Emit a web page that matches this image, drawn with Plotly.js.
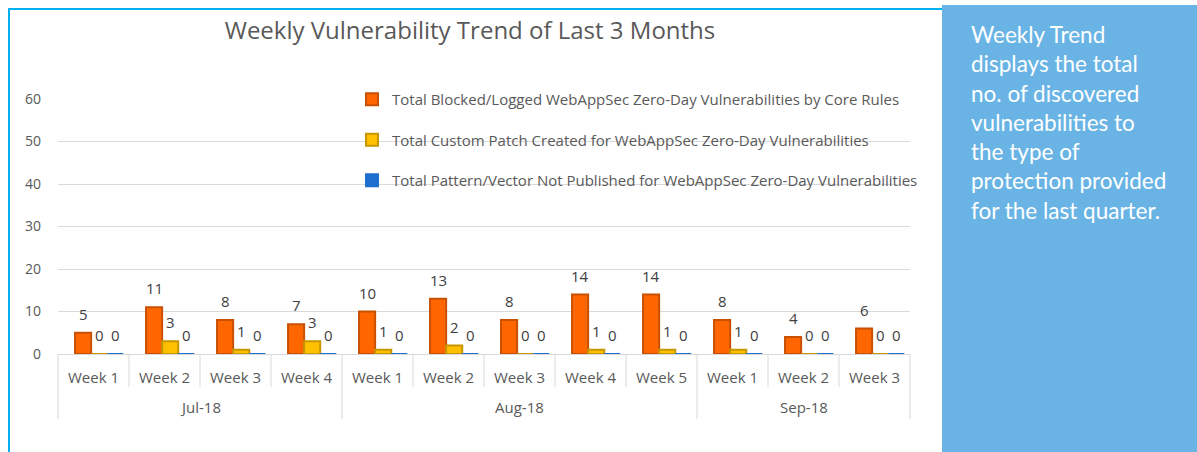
<!DOCTYPE html>
<html>
<head>
<meta charset="utf-8">
<script src="https://cdn.plot.ly/plotly-3.0.1.min.js"></script>
<style>
html,body{margin:0;padding:0;background:#fff;}
#chart{width:1197px;height:452px;}
</style>
</head>
<body>
<div id="chart"></div>
<script>
// ---- data ----
const months = ["Jul-18","Jul-18","Jul-18","Jul-18","Aug-18","Aug-18","Aug-18","Aug-18","Aug-18","Sep-18","Sep-18","Sep-18"];
const weeks  = ["Week 1","Week 2","Week 3","Week 4","Week 1","Week 2","Week 3","Week 4","Week 5","Week 1","Week 2","Week 3"];
const seriesNames = [
  "Total Blocked/Logged WebAppSec Zero-Day Vulnerabilities by Core Rules",
  "Total Custom Patch Created for WebAppSec Zero-Day Vulnerabilities",
  "Total Pattern/Vector Not Published for WebAppSec Zero-Day Vulnerabilities"
];
const blocked = [5, 11, 8, 7, 10, 13, 8, 14, 14, 8, 4, 6];
const patched = [0, 3, 1, 3, 1, 2, 0, 1, 1, 1, 0, 0];
const notPublished = [0, 0, 0, 0, 0, 0, 0, 0, 0, 0, 0, 0];
const yTicks = [0, 10, 20, 30, 40, 50, 60];
const titleText = "Weekly Vulnerability Trend of Last 3 Months";
const panelLines = ["Weekly Trend","displays the total","no. of discovered","vulnerabilities to","the type of","protection provided","for the last quarter."];

// ---- layout helpers ----
const W = 1197, H = 452;
const M = {l: 58, r: 287, t: 99, b: 98};
const PW = W - M.l - M.r, PH = H - M.t - M.b;
const px = v => (v - M.l) / PW;
const py = v => (H - M.b - v) / PH;

const FONT = "'Open Sans', sans-serif";
const PANEL_FONT = "Lato, sans-serif";
const GRID = "#D9D9D9";
const colors = ["#FF6600", "#FFC000", "#1E6FCE"];
const edges = ["#C85000", "#C79600", "#1E6FCE"];
const vals = [blocked, patched, notPublished];
const BARGAP = 0.32;
const SHIFT = 0.08;            // perspective shift of the bar group to the right
const barW = (1 - BARGAP) / vals.length;

const keys = months.map((m, i) => m + " " + weeks[i]);
const idx = keys.map((k, i) => i);

const traces = vals.map((v, i) => ({
  type: "bar",
  name: seriesNames[i],
  x: keys,
  y: v,
  width: barW,
  offset: (i - vals.length / 2) * barW + SHIFT,
  legendgroup: "g" + i,
  marker: {color: colors[i], line: {color: edges[i], width: 2}},
  hoverinfo: "y+name"
}));

const annotations = [];
// data labels
vals.forEach((v, s) => {
  v.forEach((val, i) => {
    annotations.push({xref: "x", yref: "y", x: i + (s - (vals.length - 1) / 2) * barW + SHIFT, y: val, yanchor: "bottom",
      yshift: 7, showarrow: false, text: String(val),
      font: {family: FONT, size: 15, color: "#404040"}});
  });
});
// week labels
weeks.forEach((w, i) => {
  annotations.push({xref: "x", yref: "paper", x: idx[i], y: py(377), yanchor: "middle",
    showarrow: false, text: w, font: {family: FONT, size: 15, color: "#595959"}});
});
// month labels + dividers
const shapes = [];
const monthStarts = [];
months.forEach((m, i) => { if (i === 0 || m !== months[i-1]) monthStarts.push(i); });
monthStarts.forEach((st, k) => {
  const en = (k + 1 < monthStarts.length ? monthStarts[k+1] : months.length) - 1;
  annotations.push({xref: "x", yref: "paper", x: (st + en) / 2, y: py(407), yanchor: "middle",
    showarrow: false, text: months[st], font: {family: FONT, size: 15, color: "#595959"}});
});
for (let i = 0; i <= months.length; i++) {
  const isMonthEdge = i === 0 || i === months.length || months[i] !== months[i-1];
  shapes.push({type: "line", xref: "paper", yref: "paper",
    x0: i / months.length, x1: i / months.length, y0: 0, y1: isMonthEdge ? py(419) : py(387),
    line: {color: GRID, width: 1}});
}
// panel text
annotations.push({
  xref: "paper", yref: "paper", x: px(969), y: py(19), xanchor: "left", yanchor: "top",
  align: "left", showarrow: false, text: panelLines.join("<br>"),
  font: {family: PANEL_FONT, size: 22.5, color: "#ffffff"}
});

// cyan border
shapes.push({type: "line", xref: "paper", yref: "paper", x0: px(9), x1: px(9), y0: py(8), y1: py(460), line: {color: "#00B0F0", width: 2}});
shapes.push({type: "line", xref: "paper", yref: "paper", x0: px(8), x1: px(942), y0: py(9), y1: py(9), line: {color: "#00B0F0", width: 2}});
// right info panel
shapes.push({type: "rect", xref: "paper", yref: "paper", x0: px(942), x1: px(1200), y0: py(5), y1: py(460), fillcolor: "#69B4E5", line: {width: 0}, layer: "above"});

const layout = {
  width: W, height: H,
  margin: M,
  paper_bgcolor: "#fff", plot_bgcolor: "#fff",
  font: {family: FONT, color: "#595959", size: 14},
  title: {text: titleText, x: 470 / W, xref: "container", xanchor: "center", y: 1 - 31 / H, yanchor: "middle",
    font: {family: FONT, size: 24, color: "#595959"}},
  barmode: "group",
  bargap: BARGAP,
  bargroupgap: 0,
  showlegend: true,
  legend: {x: px(352), y: py(83), xanchor: "left", yanchor: "top", bgcolor: "rgba(0,0,0,0)",
    tracegroupgap: 18, traceorder: "grouped", font: {family: FONT, size: 15, color: "#595959"}},
  xaxis: {type: "category", showline: true, linecolor: GRID, linewidth: 1,
    showticklabels: false, ticks: "", showgrid: false, fixedrange: true},
  yaxis: {range: [0, 60], tickvals: yTicks, showgrid: true, gridcolor: GRID, gridwidth: 1,
    zeroline: false, showline: false, ticks: "", ticklabelstandoff: 16,
    tickfont: {family: FONT, size: 14, color: "#595959"}, fixedrange: true},
  shapes: shapes,
  annotations: annotations
};

Plotly.newPlot("chart", traces, layout, {displayModeBar: false, staticPlot: true});
</script>
</body>
</html>
